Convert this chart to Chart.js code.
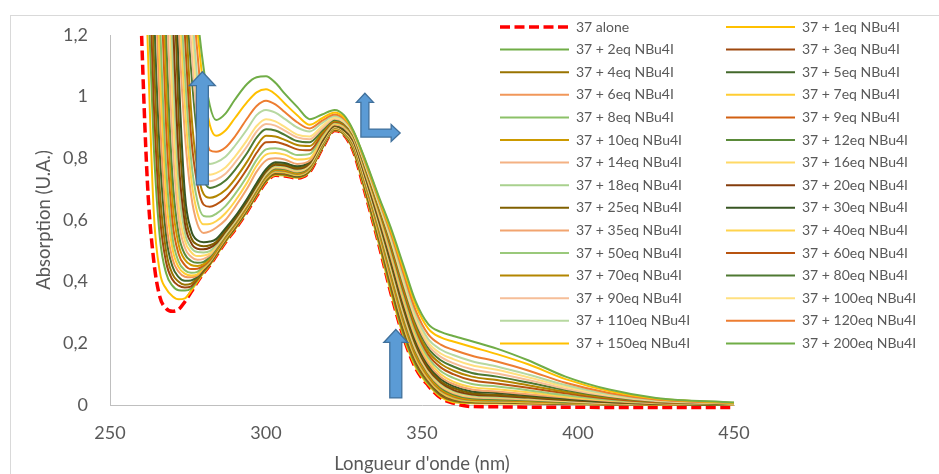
<!DOCTYPE html>
<html>
<head>
<meta charset="utf-8">
<script src="https://cdn.jsdelivr.net/npm/chart.js@4/dist/chart.umd.min.js"></script>
<style>
  html, body { margin: 0; padding: 0; background: #fff; }
  #wrap { position: relative; width: 939px; height: 474px; overflow: hidden; }
</style>
</head>
<body>
<div id="wrap"><canvas id="uvChart"></canvas></div>
<script>
// longueurs d'onde (nm), communes à toutes les courbes
const wavelengths = [258, 260, 262, 264, 266, 268, 270, 272, 274, 276, 278, 280, 282, 284,
  287, 290, 294, 297, 300, 303, 306, 310, 314, 318, 322, 325,
  328, 332, 336, 340, 344, 348, 352, 356, 360,
  366, 374, 384, 396, 410, 425, 450];

const alone = [1.95, 1.24, 0.72, 0.47, 0.35, 0.313, 0.304, 0.31, 0.335, 0.366, 0.399, 0.428, 0.453, 0.483,
  0.528, 0.568, 0.628, 0.678, 0.723, 0.745, 0.743, 0.736, 0.756, 0.831, 0.89, 0.876,
  0.823, 0.68, 0.528, 0.364, 0.222, 0.119, 0.063, 0.023, 0.006,
  -0.005, -0.006, -0.007, -0.007, -0.008, -0.008, -0.008];
const eq1 = [2.5, 1.92, 1.2, 0.63, 0.43, 0.377, 0.353, 0.343, 0.346, 0.37, 0.4, 0.429, 0.454, 0.484,
  0.529, 0.569, 0.629, 0.679, 0.724, 0.746, 0.744, 0.737, 0.757, 0.832, 0.891, 0.877,
  0.824, 0.682, 0.53, 0.367, 0.225, 0.122, 0.066, 0.026, 0.009,
  0.006, 0.005, 0.004, 0.003, 0.002, 0.001, 0];
const eq2 = [2.5, 2.18, 1.39, 0.843, 0.541, 0.427, 0.387, 0.372, 0.371, 0.378, 0.405, 0.432, 0.456, 0.486,
  0.531, 0.571, 0.631, 0.681, 0.726, 0.748, 0.746, 0.739, 0.759, 0.833, 0.892, 0.878,
  0.827, 0.687, 0.536, 0.376, 0.232, 0.129, 0.07, 0.03, 0.013,
  0.008, 0.007, 0.006, 0.004, 0.002, 0.001, 0];
const eq3 = [2.5, 2.45, 1.6, 0.989, 0.614, 0.462, 0.407, 0.387, 0.381, 0.385, 0.408, 0.434, 0.458, 0.488,
  0.533, 0.573, 0.633, 0.683, 0.728, 0.75, 0.748, 0.74, 0.76, 0.835, 0.893, 0.879,
  0.83, 0.692, 0.544, 0.385, 0.241, 0.136, 0.075, 0.033, 0.015,
  0.009, 0.008, 0.006, 0.004, 0.002, 0.001, 0];
const eq4 = [2.5, 2.47, 1.84, 1.147, 0.693, 0.498, 0.425, 0.4, 0.39, 0.394, 0.412, 0.437, 0.46, 0.49,
  0.535, 0.575, 0.635, 0.685, 0.73, 0.752, 0.75, 0.742, 0.762, 0.836, 0.894, 0.88,
  0.833, 0.696, 0.549, 0.391, 0.247, 0.14, 0.078, 0.036, 0.017,
  0.01, 0.009, 0.007, 0.005, 0.003, 0.001, 0];
const eq5 = [2.5, 2.5, 2.1, 1.32, 0.811, 0.548, 0.45, 0.415, 0.403, 0.404, 0.416, 0.44, 0.462, 0.492,
  0.537, 0.577, 0.637, 0.687, 0.732, 0.754, 0.752, 0.743, 0.763, 0.838, 0.895, 0.881,
  0.835, 0.699, 0.554, 0.397, 0.253, 0.144, 0.081, 0.038, 0.019,
  0.011, 0.01, 0.008, 0.005, 0.003, 0.001, 0];
const eq6 = [2.5, 2.5, 2.37, 1.53, 0.94, 0.601, 0.475, 0.432, 0.416, 0.414, 0.42, 0.443, 0.464, 0.494,
  0.539, 0.579, 0.639, 0.689, 0.734, 0.756, 0.754, 0.745, 0.765, 0.839, 0.896, 0.882,
  0.837, 0.703, 0.558, 0.403, 0.259, 0.149, 0.083, 0.041, 0.021,
  0.012, 0.011, 0.008, 0.006, 0.003, 0.001, 0];
const eq7 = [2.5, 2.5, 2.45, 1.76, 1.097, 0.679, 0.508, 0.447, 0.426, 0.42, 0.424, 0.445, 0.466, 0.496,
  0.541, 0.581, 0.641, 0.691, 0.736, 0.758, 0.756, 0.746, 0.766, 0.841, 0.897, 0.883,
  0.839, 0.706, 0.563, 0.41, 0.264, 0.153, 0.086, 0.043, 0.023,
  0.013, 0.011, 0.009, 0.006, 0.003, 0.002, 0.001];
const eq8 = [2.5, 2.5, 2.5, 2.0, 1.26, 0.77, 0.545, 0.465, 0.437, 0.429, 0.432, 0.449, 0.468, 0.498,
  0.543, 0.583, 0.643, 0.693, 0.738, 0.76, 0.758, 0.748, 0.768, 0.842, 0.898, 0.884,
  0.841, 0.71, 0.568, 0.416, 0.27, 0.158, 0.09, 0.046, 0.026,
  0.015, 0.013, 0.011, 0.007, 0.004, 0.002, 0.001];
const eq9 = [2.5, 2.5, 2.5, 2.28, 1.46, 0.9, 0.599, 0.49, 0.454, 0.441, 0.442, 0.452, 0.471, 0.5,
  0.545, 0.585, 0.645, 0.695, 0.74, 0.762, 0.76, 0.75, 0.77, 0.844, 0.899, 0.885,
  0.843, 0.713, 0.573, 0.422, 0.276, 0.162, 0.093, 0.049, 0.028,
  0.017, 0.015, 0.012, 0.008, 0.004, 0.002, 0.001];
const eq10 = [2.5, 2.5, 2.5, 2.45, 1.68, 1.045, 0.665, 0.52, 0.471, 0.454, 0.451, 0.457, 0.476, 0.502,
  0.547, 0.587, 0.647, 0.697, 0.742, 0.764, 0.762, 0.752, 0.772, 0.845, 0.9, 0.886,
  0.845, 0.716, 0.578, 0.428, 0.282, 0.167, 0.097, 0.052, 0.031,
  0.019, 0.017, 0.013, 0.009, 0.005, 0.002, 0.001];
const eq12 = [2.5, 2.5, 2.5, 2.5, 1.92, 1.2, 0.744, 0.554, 0.489, 0.467, 0.461, 0.464, 0.481, 0.507,
  0.55, 0.59, 0.65, 0.7, 0.745, 0.767, 0.765, 0.755, 0.774, 0.847, 0.901, 0.887,
  0.848, 0.721, 0.584, 0.436, 0.29, 0.174, 0.102, 0.057, 0.035,
  0.022, 0.019, 0.015, 0.01, 0.006, 0.003, 0.001];
const eq14 = [2.5, 2.5, 2.5, 2.5, 2.18, 1.39, 0.863, 0.601, 0.51, 0.481, 0.471, 0.474, 0.486, 0.511,
  0.553, 0.593, 0.653, 0.703, 0.748, 0.77, 0.768, 0.757, 0.777, 0.849, 0.902, 0.888,
  0.85, 0.724, 0.589, 0.442, 0.296, 0.179, 0.106, 0.061, 0.039,
  0.025, 0.022, 0.018, 0.012, 0.006, 0.003, 0.001];
const eq16 = [2.5, 2.5, 2.5, 2.5, 2.45, 1.6, 0.992, 0.649, 0.533, 0.496, 0.483, 0.485, 0.491, 0.515,
  0.556, 0.596, 0.656, 0.706, 0.751, 0.773, 0.771, 0.76, 0.779, 0.851, 0.903, 0.889,
  0.852, 0.728, 0.594, 0.448, 0.303, 0.185, 0.11, 0.065, 0.043,
  0.028, 0.025, 0.02, 0.013, 0.007, 0.003, 0.001];
const eq18 = [2.5, 2.5, 2.5, 2.5, 2.5, 1.84, 1.147, 0.719, 0.559, 0.51, 0.496, 0.495, 0.499, 0.519,
  0.559, 0.599, 0.659, 0.709, 0.754, 0.776, 0.774, 0.763, 0.782, 0.853, 0.904, 0.89,
  0.854, 0.731, 0.598, 0.454, 0.309, 0.19, 0.114, 0.069, 0.046,
  0.031, 0.027, 0.022, 0.015, 0.008, 0.004, 0.001];
const eq20 = [2.5, 2.5, 2.5, 2.5, 2.5, 2.1, 1.32, 0.801, 0.59, 0.526, 0.507, 0.505, 0.51, 0.524,
  0.562, 0.602, 0.662, 0.712, 0.757, 0.779, 0.777, 0.766, 0.784, 0.855, 0.905, 0.891,
  0.856, 0.735, 0.603, 0.461, 0.315, 0.195, 0.117, 0.073, 0.049,
  0.034, 0.03, 0.024, 0.016, 0.009, 0.004, 0.001];
const eq25 = [2.5, 2.5, 2.5, 2.5, 2.5, 2.37, 1.53, 0.933, 0.633, 0.543, 0.52, 0.515, 0.518, 0.529,
  0.566, 0.605, 0.665, 0.715, 0.76, 0.782, 0.78, 0.769, 0.787, 0.857, 0.906, 0.892,
  0.859, 0.738, 0.608, 0.467, 0.322, 0.2, 0.123, 0.077, 0.055,
  0.038, 0.033, 0.027, 0.018, 0.01, 0.004, 0.001];
const eq30 = [2.5, 2.5, 2.5, 2.5, 2.5, 2.45, 1.76, 1.089, 0.686, 0.567, 0.534, 0.528, 0.53, 0.538,
  0.573, 0.61, 0.67, 0.72, 0.765, 0.787, 0.785, 0.774, 0.791, 0.86, 0.908, 0.894,
  0.861, 0.742, 0.613, 0.473, 0.329, 0.207, 0.129, 0.084, 0.061,
  0.044, 0.039, 0.031, 0.021, 0.011, 0.005, 0.002];
const eq35 = [2.5, 2.5, 2.5, 2.5, 2.5, 2.5, 1.85, 1.24, 0.879, 0.681, 0.587, 0.558, 0.563, 0.575,
  0.6, 0.641, 0.703, 0.757, 0.793, 0.8, 0.796, 0.782, 0.792, 0.864, 0.91, 0.899,
  0.863, 0.746, 0.619, 0.482, 0.338, 0.216, 0.136, 0.091, 0.068,
  0.05, 0.044, 0.035, 0.024, 0.013, 0.006, 0.002];
const eq40 = [2.5, 2.5, 2.5, 2.5, 2.5, 2.5, 1.95, 1.38, 0.972, 0.736, 0.623, 0.586, 0.587, 0.596,
  0.622, 0.66, 0.722, 0.776, 0.812, 0.817, 0.812, 0.796, 0.8, 0.868, 0.913, 0.903,
  0.867, 0.752, 0.627, 0.493, 0.349, 0.225, 0.145, 0.1, 0.076,
  0.058, 0.051, 0.041, 0.027, 0.015, 0.007, 0.002];
const eq50 = [2.5, 2.5, 2.5, 2.5, 2.5, 2.5, 2.05, 1.47, 1.077, 0.796, 0.662, 0.613, 0.611, 0.62,
  0.645, 0.683, 0.743, 0.795, 0.829, 0.833, 0.827, 0.811, 0.814, 0.873, 0.916, 0.906,
  0.87, 0.757, 0.634, 0.501, 0.359, 0.235, 0.154, 0.11, 0.088,
  0.068, 0.06, 0.048, 0.032, 0.017, 0.008, 0.003];
const eq60 = [2.5, 2.5, 2.5, 2.5, 2.5, 2.5, 2.15, 1.6, 1.2, 0.872, 0.715, 0.65, 0.643, 0.65,
  0.672, 0.708, 0.767, 0.818, 0.852, 0.853, 0.845, 0.829, 0.826, 0.878, 0.919, 0.909,
  0.873, 0.761, 0.64, 0.511, 0.371, 0.246, 0.164, 0.122, 0.1,
  0.08, 0.07, 0.056, 0.038, 0.02, 0.009, 0.003];
const eq70 = [2.5, 2.5, 2.5, 2.5, 2.5, 2.5, 2.25, 1.68, 1.33, 0.955, 0.764, 0.684, 0.672, 0.677,
  0.697, 0.732, 0.79, 0.84, 0.873, 0.871, 0.86, 0.843, 0.84, 0.884, 0.922, 0.912,
  0.875, 0.766, 0.646, 0.52, 0.382, 0.256, 0.174, 0.134, 0.112,
  0.092, 0.081, 0.064, 0.043, 0.024, 0.011, 0.004];
const eq80 = [2.5, 2.5, 2.5, 2.5, 2.5, 2.5, 2.3, 1.73, 1.4, 1.088, 0.868, 0.737, 0.704, 0.709,
  0.728, 0.762, 0.818, 0.867, 0.894, 0.89, 0.876, 0.856, 0.852, 0.89, 0.925, 0.915,
  0.878, 0.77, 0.653, 0.529, 0.392, 0.267, 0.185, 0.145, 0.125,
  0.104, 0.092, 0.073, 0.049, 0.027, 0.012, 0.004];
const eq90 = [2.5, 2.5, 2.5, 2.5, 2.5, 2.5, 2.35, 1.85, 1.48, 1.171, 0.917, 0.767, 0.726, 0.731,
  0.75, 0.785, 0.84, 0.887, 0.911, 0.906, 0.89, 0.868, 0.862, 0.897, 0.928, 0.917,
  0.88, 0.773, 0.656, 0.535, 0.399, 0.275, 0.194, 0.156, 0.136,
  0.116, 0.102, 0.081, 0.053, 0.029, 0.013, 0.005];
const eq100 = [2.5, 2.5, 2.5, 2.5, 2.5, 2.5, 2.4, 1.98, 1.6, 1.27, 0.973, 0.799, 0.747, 0.752,
  0.77, 0.805, 0.86, 0.905, 0.927, 0.92, 0.902, 0.877, 0.871, 0.905, 0.932, 0.92,
  0.881, 0.775, 0.659, 0.54, 0.407, 0.283, 0.203, 0.167, 0.149,
  0.129, 0.114, 0.09, 0.059, 0.032, 0.015, 0.005];
const eq110 = [2.5, 2.5, 2.5, 2.5, 2.5, 2.5, 2.45, 2.05, 1.68, 1.33, 1.054, 0.853, 0.782, 0.787,
  0.805, 0.84, 0.895, 0.94, 0.957, 0.948, 0.928, 0.9, 0.887, 0.915, 0.937, 0.924,
  0.883, 0.779, 0.664, 0.548, 0.416, 0.293, 0.214, 0.18, 0.162,
  0.142, 0.125, 0.099, 0.065, 0.035, 0.016, 0.006];
const eq120 = [2.5, 2.5, 2.5, 2.5, 2.5, 2.5, 2.5, 2.1, 1.74, 1.4, 1.145, 0.93, 0.826, 0.821,
  0.835, 0.87, 0.93, 0.97, 0.987, 0.975, 0.95, 0.917, 0.897, 0.922, 0.942, 0.928,
  0.886, 0.783, 0.67, 0.557, 0.429, 0.306, 0.229, 0.196, 0.179,
  0.16, 0.141, 0.112, 0.072, 0.039, 0.018, 0.006];
const eq150 = [2.5, 2.5, 2.5, 2.5, 2.5, 2.5, 2.5, 2.15, 1.8, 1.45, 1.22, 1.026, 0.908, 0.873,
  0.89, 0.93, 0.983, 1.014, 1.024, 1.008, 0.978, 0.94, 0.909, 0.93, 0.949, 0.933,
  0.888, 0.787, 0.675, 0.567, 0.443, 0.323, 0.248, 0.219, 0.206,
  0.188, 0.165, 0.132, 0.084, 0.045, 0.021, 0.007];
const eq200 = [2.5, 2.5, 2.5, 2.5, 2.5, 2.5, 2.5, 2.2, 1.86, 1.53, 1.27, 1.093, 0.971, 0.924,
  0.945, 0.99, 1.042, 1.063, 1.066, 1.045, 1.01, 0.967, 0.927, 0.942, 0.957, 0.94,
  0.89, 0.79, 0.68, 0.575, 0.455, 0.335, 0.262, 0.237, 0.224,
  0.207, 0.183, 0.145, 0.092, 0.05, 0.023, 0.008];

const seriesNames = ["37 alone", "37 + 1eq NBu4I", "37 + 2eq NBu4I", "37 + 3eq NBu4I",
  "37 + 4eq NBu4I", "37 + 5eq NBu4I", "37 + 6eq NBu4I", "37 + 7eq NBu4I", "37 + 8eq NBu4I",
  "37 + 9eq NBu4I", "37 + 10eq NBu4I", "37 + 12eq NBu4I", "37 + 14eq NBu4I", "37 + 16eq NBu4I",
  "37 + 18eq NBu4I", "37 + 20eq NBu4I", "37 + 25eq NBu4I", "37 + 30eq NBu4I", "37 + 35eq NBu4I",
  "37 + 40eq NBu4I", "37 + 50eq NBu4I", "37 + 60eq NBu4I", "37 + 70eq NBu4I", "37 + 80eq NBu4I",
  "37 + 90eq NBu4I", "37 + 100eq NBu4I", "37 + 110eq NBu4I", "37 + 120eq NBu4I",
  "37 + 150eq NBu4I", "37 + 200eq NBu4I"];
const seriesValues = [alone, eq1, eq2, eq3, eq4, eq5, eq6, eq7, eq8, eq9, eq10, eq12, eq14, eq16,
  eq18, eq20, eq25, eq30, eq35, eq40, eq50, eq60, eq70, eq80, eq90, eq100, eq110, eq120, eq150, eq200];

const lineColors = ["#FF0000", "#FFC000", "#70AD47", "#9E480E", "#997300", "#43682B",
  "#F1975A", "#FFCD33", "#8CC168", "#D26012", "#CC9A00", "#5A8A39",
  "#F4B183", "#FFD966", "#A9D18E", "#843C0C", "#806000", "#385623",
  "#F2A46F", "#FFD34D", "#9AC97B", "#B85410", "#B38600", "#4E7932",
  "#F6BE98", "#FFE080", "#B7D8A1", "#ED7D31", "#FFC000", "#70AD47"];

// flèches d'annotation, en unités du graphique (nm, absorbance)
const arrowLeft = { nm: 279.6, from: 0.714, to: 1.081 };
const arrowTail = { nm: 341.6, from: 0.023, to: 0.245 };
const arrowShift = { nm: 331.7, top: 1.011, corner: 0.882, right: 343.0 };

function upArrow(ctx, cx, yTip, yBase, shaft, head, headLen) {
  ctx.beginPath();
  ctx.moveTo(cx - shaft, yBase);
  ctx.lineTo(cx - shaft, yTip + headLen);
  ctx.lineTo(cx - head, yTip + headLen);
  ctx.lineTo(cx, yTip);
  ctx.lineTo(cx + head, yTip + headLen);
  ctx.lineTo(cx + shaft, yTip + headLen);
  ctx.lineTo(cx + shaft, yBase);
  ctx.closePath();
  ctx.fill();
  ctx.stroke();
}

function cornerArrow(ctx, cx, yTip, cy, xTip, shaft, head, headLen) {
  ctx.beginPath();
  ctx.moveTo(cx - shaft, cy + shaft);
  ctx.lineTo(cx - shaft, yTip + headLen);
  ctx.lineTo(cx - head, yTip + headLen);
  ctx.lineTo(cx, yTip);
  ctx.lineTo(cx + head, yTip + headLen);
  ctx.lineTo(cx + shaft, yTip + headLen);
  ctx.lineTo(cx + shaft, cy - shaft);
  ctx.lineTo(xTip - headLen, cy - shaft);
  ctx.lineTo(xTip - headLen, cy - head);
  ctx.lineTo(xTip, cy);
  ctx.lineTo(xTip - headLen, cy + head);
  ctx.lineTo(xTip - headLen, cy + shaft);
  ctx.closePath();
  ctx.fill();
  ctx.stroke();
}

const decorations = {
  id: "decorations",
  beforeDraw(chart) {
    // cadre gris du graphique Excel
    const ctx = chart.ctx;
    ctx.save();
    ctx.strokeStyle = "#d9d9d9";
    ctx.lineWidth = 1;
    ctx.strokeRect(10.5, 15.5, 1500, 1000);
    ctx.restore();
  },
  afterDatasetsDraw(chart) {
    const { ctx, scales: { x, y } } = chart;
    ctx.save();
    ctx.fillStyle = "#5B9BD5";
    ctx.strokeStyle = "#41719C";
    ctx.lineWidth = 1.3;
    upArrow(ctx, x.getPixelForValue(arrowLeft.nm), y.getPixelForValue(arrowLeft.to),
      y.getPixelForValue(arrowLeft.from), 6, 13, 14);
    upArrow(ctx, x.getPixelForValue(arrowTail.nm), y.getPixelForValue(arrowTail.to),
      y.getPixelForValue(arrowTail.from), 6, 12, 13);
    cornerArrow(ctx, x.getPixelForValue(arrowShift.nm), y.getPixelForValue(arrowShift.top),
      y.getPixelForValue(arrowShift.corner), x.getPixelForValue(arrowShift.right), 4, 8.5, 9);
    ctx.restore();
  },
  afterDraw(chart) {
    // légende sur deux colonnes
    const ctx = chart.ctx;
    const colX = [500, 726];
    ctx.save();
    ctx.font = "14px Lato";
    ctx.fillStyle = "#595959";
    ctx.textBaseline = "middle";
    chart.data.datasets.forEach((ds, i) => {
      const x = colX[i % 2];
      const y = 27 + Math.floor(i / 2) * 22.6;
      ctx.strokeStyle = ds.borderColor;
      ctx.lineWidth = ds.borderWidth;
      ctx.setLineDash(ds.borderDash);
      ctx.beginPath();
      ctx.moveTo(x, y);
      ctx.lineTo(x + 69, y);
      ctx.stroke();
      ctx.setLineDash([]);
      ctx.fillText(ds.label, x + 76, y);
    });
    ctx.restore();
  }
};

window.onload = function () {
  Chart.defaults.font.family = "Lato, 'Open Sans', sans-serif";
  Chart.defaults.color = "#595959";

  const datasets = seriesValues.map((vals, i) => ({
    label: seriesNames[i],
    data: vals.map((v, j) => ({ x: wavelengths[j], y: v })),
    borderColor: lineColors[i],
    borderWidth: i === 0 ? 3.5 : 2,
    borderDash: i === 0 ? [10, 4.5] : [],
    borderCapStyle: "butt",
    pointRadius: 0,
    fill: false,
    cubicInterpolationMode: "monotone",
    order: seriesValues.length - i,
    clip: { left: 0, top: 0, right: 2, bottom: 6 }
  }));

  const ctx = document.getElementById("uvChart").getContext("2d");
  new Chart(ctx, {
    type: "line",
    data: { datasets },
    options: {
      responsive: true,
      maintainAspectRatio: false,
      devicePixelRatio: 1,
      animation: false,
      events: [],
      layout: { padding: { left: 10, right: 205, top: 35, bottom: 0 } },
      plugins: { legend: { display: false }, tooltip: { enabled: false } },
      scales: {
        x: {
          type: "linear",
          min: 250,
          max: 450,
          ticks: { stepSize: 50, padding: 17, font: { size: 18 }, color: "#595959" },
          grid: { display: false, drawTicks: false },
          border: { display: true, color: "#bfbfbf", width: 1 },
          title: {
            display: true,
            text: "Longueur d'onde (nm)",
            color: "#595959",
            font: { size: 18.5, lineHeight: 1.1 },
            padding: { top: 0, bottom: 0 }
          },
          afterFit: s => { s.height = 69; }
        },
        y: {
          min: 0,
          max: 1.2,
          ticks: {
            stepSize: 0.2,
            padding: 22,
            font: { size: 18 },
            color: "#595959",
            callback: v => String(Math.round(v * 10) / 10).replace(".", ",")
          },
          grid: { display: false, drawTicks: false },
          border: { display: true, color: "#bfbfbf", width: 1 },
          title: {
            display: true,
            text: "Absorption (U.A.)",
            color: "#595959",
            font: { size: 18.5, lineHeight: 1.1 },
            padding: { top: 24, bottom: 0 }
          },
          afterFit: s => { s.width = 100; }
        }
      }
    },
    plugins: [decorations]
  });
};
</script>
</body>
</html>
